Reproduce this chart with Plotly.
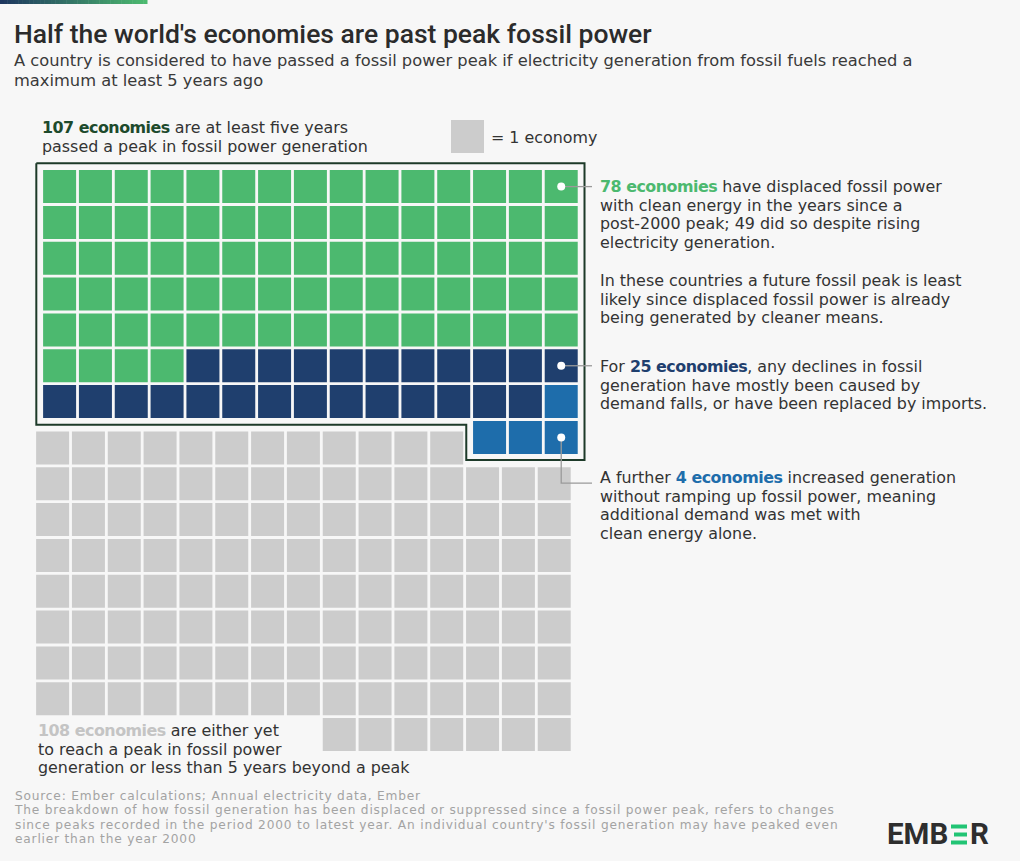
import plotly.graph_objects as go

W, H = 1020, 861
BG = "#f7f7f7"

# ---------------- data (cells as drawn) ----------------
peaked_groups = ["Displaced fossil power with clean energy",
                 "Declines caused by demand falls or imports",
                 "Growth met with clean energy alone"]
peaked_counts = [79, 25, 4]
peaked_colors = ["#4cb96f", "#1f3f6e", "#1e6dab"]
not_peaked_label = "Yet to peak or less than 5 years beyond a peak"
not_peaked_count = 124
not_peaked_color = "#cccccc"
n_cols = 15

# ---------------- layout constants (pixels) ----------------
STEP = 35.83
CELL = 33
X0_PX, Y0_PX = 59.6, 186.6          # centre of first cell
GREY_DX, GREY_DY = -7 / STEP, 10.5 / STEP
PAD = 0.65
FONT = "DejaVu Sans"
TFONT = "Roboto"

def ux(px):
    return (px - X0_PX) / STEP

def uy(py):
    return (py - Y0_PX) / STEP

# ---------------- cell positions ----------------
n_top = sum(peaked_counts)
full_rows, rem = divmod(n_top, n_cols)
top_pos = []
for i in range(n_top):
    r, c = divmod(i, n_cols)
    if r == full_rows:
        c = n_cols - rem + c
    top_pos.append((c, r))

grey_pos = []
for c in range(min(n_cols - rem, not_peaked_count)):
    grey_pos.append((c, full_rows))
left = not_peaked_count - len(grey_pos)
g_full, g_rem = divmod(left, n_cols)
for k in range(left):
    r, c = divmod(k, n_cols)
    if r == g_full:
        c = n_cols - g_rem + c
    grey_pos.append((c, full_rows + 1 + r))

fig = go.Figure()

# grey (not yet peaked)
fig.add_trace(go.Scatter(
    x=[p[0] + GREY_DX for p in grey_pos], y=[p[1] + GREY_DY for p in grey_pos],
    mode="markers", name=not_peaked_label,
    marker=dict(symbol="square", size=CELL, color=not_peaked_color, line=dict(width=0)),
    hoverinfo="name"))

start = 0
anchors = []
for gi, (name, cnt, col) in enumerate(zip(peaked_groups, peaked_counts, peaked_colors)):
    pts = top_pos[start:start + cnt]
    start += cnt
    fig.add_trace(go.Scatter(
        x=[p[0] for p in pts], y=[p[1] for p in pts], mode="markers", name=name,
        marker=dict(symbol="square", size=CELL, color=col, line=dict(width=0)),
        hoverinfo="name"))
    if gi < 2:
        first_row = min(p[1] for p in pts)
        anchors.append(max((p for p in pts if p[1] == first_row), key=lambda p: p[0]))
    else:
        anchors.append(pts[-1])

# border around peaked economies
bx = [-PAD, n_cols - 1 + PAD, n_cols - 1 + PAD, n_cols - rem - PAD, n_cols - rem - PAD, -PAD, -PAD]
by = [-PAD, -PAD, full_rows + PAD - 0.02, full_rows + PAD - 0.02, full_rows - 1 + PAD, full_rows - 1 + PAD, -PAD]
fig.add_trace(go.Scatter(x=bx, y=by, mode="lines", line=dict(color="#1d3a29", width=2),
                         hoverinfo="skip"))

# leader lines
END_X = ux(592)
for i, (c, r) in enumerate(anchors):
    if i < 2:
        lx, ly = [c, END_X], [r, r]
    else:
        drop = uy(482.7) - uy(436.9)
        lx, ly = [c, c, END_X], [r, r + drop, r + drop]
    fig.add_trace(go.Scatter(x=lx, y=ly, mode="lines", line=dict(color="#9a9a9a", width=1.3),
                             hoverinfo="skip"))
fig.add_trace(go.Scatter(x=[a[0] for a in anchors], y=[a[1] for a in anchors], mode="markers",
                         marker=dict(symbol="circle", size=8, color="white", line=dict(width=0)),
                         hoverinfo="skip"))

# legend key square
fig.add_trace(go.Scatter(x=[ux(467.5)], y=[uy(136.5)], mode="markers",
                         marker=dict(symbol="square", size=CELL, color=not_peaked_color),
                         hoverinfo="skip"))

# ---------------- text ----------------
ann = []

def P(x, y_first, lines, size=15.9, spacing=18.6, color="#333333", family=FONT, weight=None, ls=None):
    """Paragraph: glyph size `size`, line pitch `spacing` (pixels)."""
    base = spacing / 1.3
    extra = (";letter-spacing:%.2fpx" % ls) if ls is not None else ""
    text = "<br>".join("<span style='font-size:%.2fpx%s'>%s</span>" % (size, extra, l) for l in lines)
    y_mid = y_first + spacing * (len(lines) - 1) / 2
    font = dict(size=base, color=color, family=family)
    if weight:
        font["weight"] = weight
    ann.append(dict(x=x / W, y=1 - y_mid / H, xref="paper", yref="paper", xanchor="left",
                    yanchor="middle", align="left", text=text, showarrow=False, font=font))

def B(txt, color):
    return "<b><span style='color:%s;letter-spacing:-0.5px'>%s</span></b>" % (color, txt)

P(12, 33, ["Half the world's economies are past peak fossil power"], size=26.5, spacing=30,
  color="#2b2b2b", family=TFONT, weight=500)
P(12, 61, ["A country is considered to have passed a fossil power peak if electricity generation from fossil fuels reached a",
           "maximum at least 5 years ago"], size=16.3, spacing=20, color="#3a3a3a")

P(40, 128, [B("107 economies", "#1d4a2c") + " are at least five years",
            "passed a peak in fossil power generation"])
P(489, 137, ["= 1 economy"])

P(598, 187, [B("78 economies", "#4cb96f") + " have displaced fossil power",
             "with clean energy in the years since a",
             "post-2000 peak; 49 did so despite rising",
             "electricity generation."])
P(598, 280, ["In these countries a future fossil peak is least",
             "likely since displaced fossil power is already",
             "being generated by cleaner means."])
P(598, 366, ["For " + B("25 economies", "#1f3f6e") + ", any declines in fossil",
             "generation have mostly been caused by",
             "demand falls, or have been replaced by imports."])
P(598, 478, ["A further " + B("4 economies", "#1e6dab") + " increased generation",
             "without ramping up fossil power, meaning",
             "additional demand was met with",
             "clean energy alone."])
P(36, 730, [B("108 economies", "#c4c4c4") + " are either yet",
            "to reach a peak in fossil power",
            "generation or less than 5 years beyond a peak"])

P(12, 796, ["Source: Ember calculations; Annual electricity data, Ember",
            "The breakdown of how fossil generation has been displaced or suppressed since a fossil power peak, refers to changes",
            "since peaks recorded in the period 2000 to latest year. An individual country's fossil generation may have peaked even",
            "earlier than the year 2000"], size=12.2, spacing=14.35, color="#a3a3a3", ls=0.8)

# EMBER logo
P(885, 834, ["<b>EMB</b>"], size=29.5, spacing=30, color="#2e2e2e", family=TFONT)
P(968, 834, ["<b>R</b>"], size=29.5, spacing=30, color="#2e2e2e", family=TFONT)

shapes = []
def R(x0, y0, x1, y1, color):
    shapes.append(dict(type="rect", xref="paper", yref="paper", x0=x0 / W, x1=x1 / W,
                       y0=1 - y1 / H, y1=1 - y0 / H, fillcolor=color, line=dict(width=0), layer="above"))

LG = "#21c474"
R(951, 824.5, 967, 828.5, LG)
R(954, 832.5, 967, 836.5, LG)
R(951, 840.5, 967, 844.5, LG)

# gradient bar top-left
c0, c1 = (30, 55, 95), (76, 185, 111)
NSEG = 40
for i in range(NSEG):
    t = i / (NSEG - 1)
    col = "rgb(%d,%d,%d)" % tuple(round(a + (b - a) * t) for a, b in zip(c0, c1))
    R(147 * i / NSEG, 0, 147 * (i + 1) / NSEG + 0.5, 4, col)

fig.update_layout(
    width=W, height=H, margin=dict(l=0, r=0, t=0, b=0),
    paper_bgcolor=BG, plot_bgcolor=BG, showlegend=False,
    xaxis=dict(range=[ux(0), ux(W)], visible=False, fixedrange=True),
    yaxis=dict(range=[uy(H), uy(0)], visible=False, fixedrange=True),
    annotations=ann, shapes=shapes,
)

fig.write_html("out.html")
